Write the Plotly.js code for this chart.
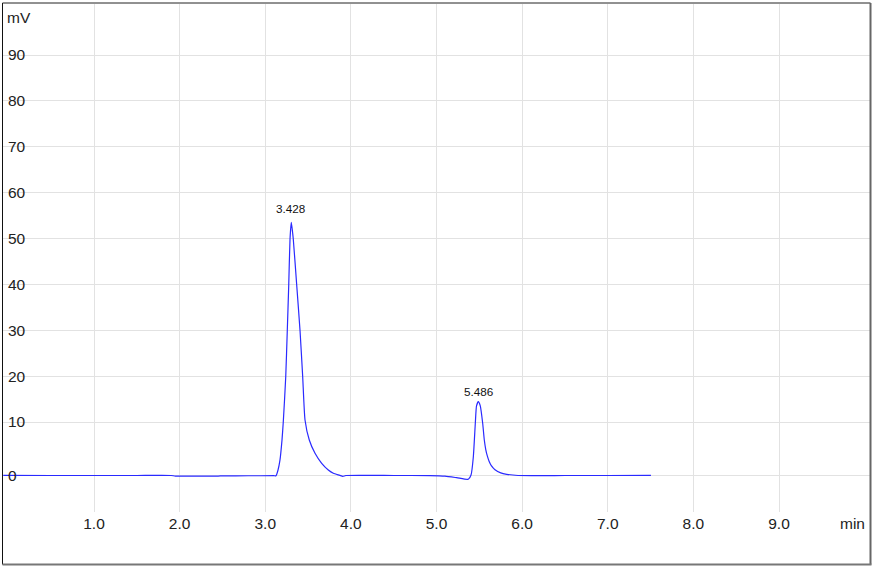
<!DOCTYPE html>
<html>
<head>
<meta charset="utf-8">
<script src="https://cdn.plot.ly/plotly-3.0.1.min.js"></script>
<style>html,body{margin:0;padding:0;background:#fff;}#chart{width:876px;height:570px;}</style>
</head>
<body>
<div id="chart"></div>
<script>
// Retention time (min)
const time = [-0.06, 0.5, 1.0, 1.5, 1.9, 1.95, 2.2, 2.45, 2.5, 2.8, 3.1,
  3.125, 3.149, 3.172, 3.195, 3.210, 3.239, 3.257, 3.274, 3.289, 3.304,
  3.327, 3.367, 3.406, 3.437, 3.464, 3.514, 3.581, 3.659, 3.736, 3.795,
  3.87, 3.905, 3.94, 4.5, 4.924, 5.099, 5.236, 5.371, 5.403, 5.430, 5.453,
  5.467, 5.488, 5.511, 5.539, 5.558, 5.575, 5.593, 5.615, 5.640, 5.683, 5.750,
  5.820, 5.952, 6.5, 7.0, 7.504];
// Detector signal (mV)
const signal = [-1.65, -1.66, -1.66, -1.66, -1.66, -1.78, -1.8, -1.78, -1.75, -1.72, -1.71,
  -1.71, -0.46, 1.73, 6.0, 9.93, 19.87, 29.9, 39.86, 49.9, 53.53,
  49.9, 39.86, 29.9, 19.87, 10.44, 6.08, 3.18, 0.99, -0.46, -1.18,
  -1.62, -1.85, -1.66, -1.66, -1.68, -1.8, -2.14, -2.49, -1.55, 2.44, 9.72,
  13.5, 14.42, 13.5, 9.72, 6.07, 4.0, 2.6, 1.4, 0.5, -0.4, -1.1,
  -1.4, -1.66, -1.66, -1.66, -1.64];

const peakTimes = [3.304, 5.488];
const peakHeights = [53.53, 14.42];
const peakLabels = ["3.428", "5.486"];

const xTickVals = [1, 2, 3, 4, 5, 6, 7, 8, 9];
const xTickText = ["1.0", "2.0", "3.0", "4.0", "5.0", "6.0", "7.0", "8.0", "9.0"];
const yTickVals = [-1.7, 10, 20, 30, 40, 50, 60, 70, 80, 90];
const yTickText = ["0", "10", "20", "30", "40", "50", "60", "70", "80", "90"];

// layout geometry (pixels)
const W = 876, H = 570;
const L = 3, R = 6, T = 4, B = 58;
const pw = W - L - R, ph = H - T - B;
const px = p => (p - L) / pw;
const py = p => (H - B - p) / ph;

const font = {family: "Liberation Sans, Arial, sans-serif", size: 15.5, color: "#222"};
const labelShiftY = [5, 2];
const labelShiftX = [-1, 0];

const annotations = peakTimes.map((t, i) => ({
  x: t, y: peakHeights[i], xref: "x", yref: "y", text: peakLabels[i],
  showarrow: false, yanchor: "bottom", xanchor: "center",
  yshift: labelShiftY[i], xshift: labelShiftX[i],
  font: {family: font.family, size: 11.7, color: "#111"}
}));
annotations.push({x: px(19), y: py(18), xref: "paper", yref: "paper", text: "mV",
  showarrow: false, xanchor: "center", yanchor: "middle", font: font});
annotations.push({x: px(852), y: py(523), xref: "paper", yref: "paper", text: "min",
  showarrow: false, xanchor: "center", yanchor: "middle", font: font});

const shapes = [
  {type: "line", xref: "paper", yref: "paper", x0: px(2.5), x1: px(2.5), y0: py(3), y1: py(564.5), line: {color: "#111", width: 1}},
  {type: "line", xref: "paper", yref: "paper", x0: px(2.5), x1: px(870.5), y0: py(3), y1: py(3), line: {color: "#222", width: 1}},
  {type: "line", xref: "paper", yref: "paper", x0: px(870.5), x1: px(870.5), y0: py(3), y1: py(564.5), line: {color: "#666", width: 2}},
  {type: "line", xref: "paper", yref: "paper", x0: px(2.5), x1: px(871.5), y0: py(564.5), y1: py(564.5), line: {color: "#777", width: 2}}
];

const trace = {
  x: time, y: signal, type: "scatter", mode: "lines",
  line: {color: "#2a2aff", width: 1.2, shape: "spline", smoothing: 0.5},
  hoverinfo: "x+y"
};

const layout = {
  width: W, height: H,
  margin: {l: L, r: R, t: T, b: B, pad: 0},
  paper_bgcolor: "#fff", plot_bgcolor: "#fff",
  showlegend: false,
  font: font,
  xaxis: {
    range: [(L - 8.4) / 85.625, (W - R - 8.4) / 85.625],
    tickvals: xTickVals, ticktext: xTickText,
    showgrid: true, gridcolor: "#e2e2e2", gridwidth: 1,
    zeroline: false, showline: false, ticks: "", tickfont: font
  },
  yaxis: {
    range: [90 - (H - B - 55) / 4.5875, 90 + (55 - T) / 4.5875],
    tickvals: yTickVals, ticktext: yTickText,
    ticklabelposition: "inside", ticks: "", ticklabelstandoff: 2,
    showgrid: true, gridcolor: "#e2e2e2", gridwidth: 1,
    zeroline: false, showline: false, tickfont: font
  },
  annotations: annotations,
  shapes: shapes
};

Plotly.newPlot("chart", [trace], layout, {staticPlot: true, displayModeBar: false});
</script>
</body>
</html>
